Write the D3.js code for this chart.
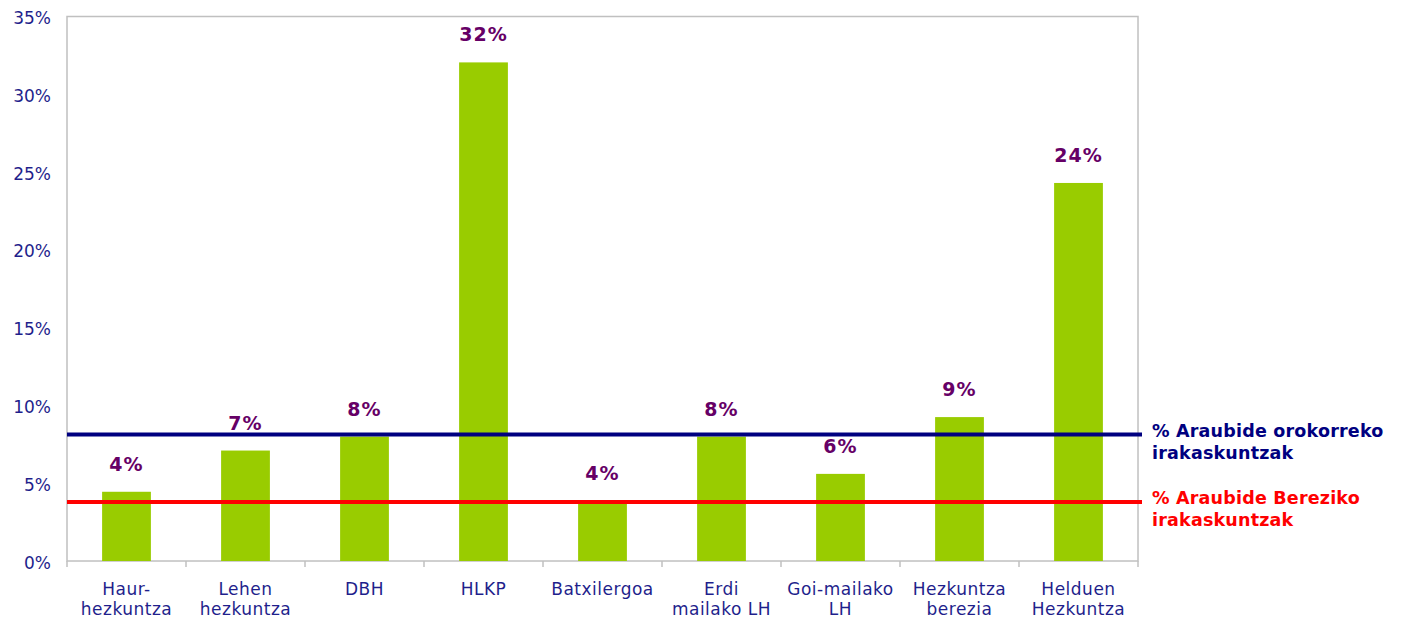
<!DOCTYPE html>
<html lang="eu">
<head>
    <meta charset="UTF-8">
    <title>Araubide Bereziko irakaskuntzak</title>
    <script src="https://d3js.org/d3.v7.min.js"></script>
    <style>
        body {
            margin: 0;
            background: #fff;
            font-family: "DejaVu Sans", Verdana, sans-serif;
        }
    </style>
</head>
<body>
    <div id="chart"></div>

    <script>
        // datuak
        const categories = [
            ["Haur-", "hezkuntza"],
            ["Lehen", "hezkuntza"],
            ["DBH"],
            ["HLKP"],
            ["Batxilergoa"],
            ["Erdi", "mailako LH"],
            ["Goi-mailako", "LH"],
            ["Hezkuntza", "berezia"],
            ["Helduen", "Hezkuntza"]
        ];
        const values = [4.45, 7.1, 8.0, 32.05, 3.85, 8.0, 5.6, 9.25, 24.3];
        const valueLabels = ["4%", "7%", "8%", "32%", "4%", "8%", "6%", "9%", "24%"];
        const yTicks = [0, 5, 10, 15, 20, 25, 30, 35];

        const refLines = [
            { value: 8.13, color: "#000080", text: ["% Araubide orokorreko", "irakaskuntzak"] },
            { value: 3.8, color: "#ff0000", text: ["% Araubide Bereziko", "irakaskuntzak"] }
        ];

        const W = 1402, H = 619;
        const margin = { top: 16.5, right: 264, bottom: 58, left: 67 };
        const width = W - margin.left - margin.right,
            height = H - margin.top - margin.bottom;

        const svg = d3.select("#chart").append("svg")
            .attr("width", W)
            .attr("height", H);

        const g = svg.append("g")
            .attr("transform", `translate(${margin.left},${margin.top})`);

        const x = d3.scaleBand()
            .domain(d3.range(categories.length))
            .range([0, width])
            .padding(0);

        const y = d3.scaleLinear()
            .domain([0, 35])
            .range([height, 0]);

        const axisColor = "#c0c0c0";
        const textColor = "#1f1f8c";

        // plot area border
        g.append("rect")
            .attr("x", 0).attr("y", 0)
            .attr("width", width).attr("height", height)
            .attr("fill", "none")
            .attr("stroke", axisColor)
            .attr("stroke-width", 1.5);

        // y axis labels
        g.selectAll(".ytick")
            .data(yTicks)
            .enter().append("text")
            .attr("class", "ytick")
            .attr("x", -16)
            .attr("y", d => y(d) + 1.5)
            .attr("dy", "0.36em")
            .attr("text-anchor", "end")
            .attr("fill", textColor)
            .style("font-size", "17px")
            .text(d => d + "%");

        // x ticks at band edges
        const edges = d3.range(categories.length + 1).map(i => i * x.step());
        g.selectAll(".xtick")
            .data(edges)
            .enter().append("line")
            .attr("x1", d => d).attr("x2", d => d)
            .attr("y1", height).attr("y2", height + 6)
            .attr("stroke", axisColor)
            .attr("stroke-width", 1.5);

        // bars
        const barW = x.bandwidth() * 0.41;
        g.selectAll(".bar")
            .data(values)
            .enter().append("rect")
            .attr("class", "bar")
            .attr("x", (d, i) => x(i) + (x.bandwidth() - barW) / 2)
            .attr("y", d => y(d))
            .attr("width", barW)
            .attr("height", d => height - y(d))
            .attr("fill", "#99cc00");

        // reference lines
        g.selectAll(".ref")
            .data(refLines)
            .enter().append("line")
            .attr("x1", 0).attr("x2", width + 4)
            .attr("y1", d => y(d.value)).attr("y2", d => y(d.value))
            .attr("stroke", d => d.color)
            .attr("stroke-width", 4);

        // value labels
        g.selectAll(".vlabel")
            .data(values)
            .enter().append("text")
            .attr("x", (d, i) => x(i) + x.bandwidth() / 2)
            .attr("y", d => y(d) - 21)
            .attr("text-anchor", "middle")
            .attr("fill", "#660066")
            .style("font-size", "19px")
            .style("font-weight", "bold")
            .style("letter-spacing", "1px")
            .text((d, i) => valueLabels[i]);

        // category labels
        const cat = g.selectAll(".cat")
            .data(categories)
            .enter().append("text")
            .attr("text-anchor", "middle")
            .attr("fill", textColor)
            .style("font-size", "17px")
            .style("letter-spacing", "0.5px");
        cat.selectAll("tspan")
            .data((d, i) => d.map(t => ({ t, i })))
            .enter().append("tspan")
            .attr("x", d => x(d.i) + x.bandwidth() / 2)
            .attr("y", (d, j) => height + 33.5 + j * 20)
            .text(d => d.t);

        // line legend texts
        const leg = g.selectAll(".leg")
            .data(refLines)
            .enter().append("text")
            .attr("fill", d => d.color)
            .style("font-size", "17.5px")
            .style("font-weight", "bold")
            .style("letter-spacing", "0.2px");
        leg.selectAll("tspan")
            .data(d => d.text.map(t => ({ t, v: d.value })))
            .enter().append("tspan")
            .attr("x", width + 14)
            .attr("y", (d, j) => y(d.v) + 2 + j * 22.5)
            .text(d => d.t);
    </script>
</body>
</html>
